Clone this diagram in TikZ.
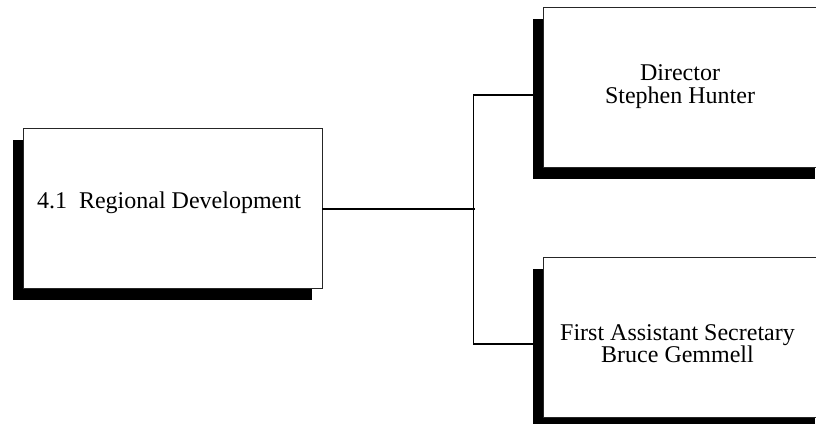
\documentclass[tikz,border=0pt]{standalone}
\usepackage{fontspec}
\setmainfont{Liberation Serif}
\usetikzlibrary{shadows}
\begin{document}
\begin{tikzpicture}[x=1pt,y=-1pt,
  unitbox/.style={draw=black!85,line width=0.9pt,fill=white,inner sep=0pt,
    minimum height=160pt,
    drop shadow={shadow xshift=-10.5pt,shadow yshift=-12pt,fill=black,opacity=1}},
  label/.style={font=\fontsize{24}{23}\selectfont,align=center,inner sep=0pt},
  link/.style={line width=1.3pt,black}]
\useasboundingbox (0,0) rectangle (816,423);
\clip (0,0) rectangle (816,423);
% organisational units
\node[unitbox,minimum width=299pt] (rd) at (172.5,208) {};
\node[unitbox,minimum width=282pt] (dir) at (684,87) {};
\node[unitbox,minimum width=282pt] (fas) at (684,337) {};
% unit titles
\node[label,anchor=base] (rdt) at (169,208) {4.1\hspace{0.5em}Regional Development};
\node[label,anchor=base] (dirt) at (680,80) {Director};
\node[label,anchor=base] (dirn) at (680,103) {Stephen Hunter};
\node[label,anchor=base] (fast) at (677.5,340) {First Assistant Secretary};
\node[label,anchor=base] (fasn) at (677.5,362) {Bruce Gemmell};
% reporting lines
\coordinate (fork) at (474.5,209);
\draw[link] (rd.east |- fork) -- (fork);
\draw[link] (dir.west |- 0,95) -- ++(-69,0) |- (fas.west |- 0,344);
\end{tikzpicture}
\end{document}
